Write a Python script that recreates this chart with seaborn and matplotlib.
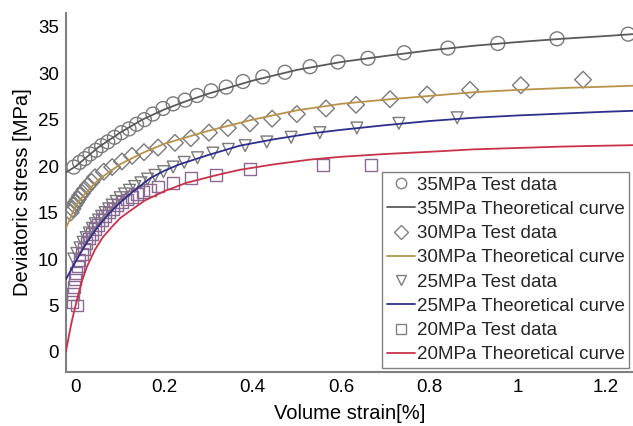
import matplotlib
matplotlib.use("Agg")
import matplotlib.pyplot as plt
from matplotlib.lines import Line2D
import seaborn as sns
import pandas as pd

# ---------------- data ----------------
x35_test = [-0.005, 0.008, 0.02, 0.032, 0.045, 0.058, 0.072, 0.087, 0.103, 0.12, 0.137, 0.155,
            0.174, 0.197, 0.22, 0.247, 0.274, 0.306, 0.34, 0.378, 0.423, 0.473, 0.53, 0.593,
            0.661, 0.743, 0.842, 0.955, 1.089, 1.25]
y35_test = [19.9, 20.4, 20.8, 21.3, 21.7, 22.2, 22.6, 23.1, 23.6, 24.0, 24.5, 25.0,
            25.6, 26.2, 26.7, 27.1, 27.6, 28.1, 28.5, 29.1, 29.6, 30.1, 30.7, 31.2,
            31.6, 32.2, 32.7, 33.2, 33.7, 34.2]
x35_curve = [-0.023, 0.0, 0.05, 0.1, 0.15, 0.2, 0.25, 0.3, 0.4, 0.5, 0.6, 0.7, 0.8, 0.9, 1.0, 1.1, 1.2, 1.261]
y35_curve = [19.3, 20.0, 22.0, 23.6, 25.0, 26.1, 27.0, 27.8, 29.2, 30.35, 31.2, 31.85, 32.45, 32.95, 33.35, 33.7, 34.0, 34.2]

x30_test = [-0.012, -0.008, -0.004, 0.0, 0.004, 0.009, 0.014, 0.02, 0.027, 0.035, 0.043, 0.063,
            0.082, 0.104, 0.127, 0.154, 0.186, 0.224, 0.26, 0.301, 0.344, 0.394, 0.444, 0.5,
            0.566, 0.634, 0.711, 0.795, 0.892, 1.007, 1.148]
y30_test = [15.0, 15.4, 15.8, 16.1, 16.4, 16.8, 17.1, 17.5, 17.9, 18.3, 18.8, 19.4,
            19.9, 20.5, 21.1, 21.5, 22.0, 22.5, 23.0, 23.6, 24.1, 24.6, 25.1, 25.6,
            26.2, 26.6, 27.2, 27.7, 28.2, 28.7, 29.3]
x30_curve = [-0.023, 0.0, 0.02, 0.05, 0.1, 0.15, 0.2, 0.3, 0.4, 0.5, 0.6, 0.7, 0.8, 0.9, 1.0, 1.1, 1.2, 1.261]
y30_curve = [13.3, 15.8, 17.0, 18.5, 20.2, 21.4, 22.4, 23.8, 25.0, 26.0, 26.7, 27.15, 27.55, 27.95, 28.2, 28.4, 28.55, 28.65]

x25_test = [-0.005, 0.002, 0.009, 0.016, 0.023, 0.03, 0.037, 0.044, 0.051, 0.058, 0.066, 0.074,
            0.082, 0.091, 0.1, 0.11, 0.121, 0.133, 0.147, 0.162, 0.179, 0.198, 0.22, 0.245,
            0.275, 0.31, 0.345, 0.383, 0.432, 0.487, 0.552, 0.636, 0.731, 0.863]
y25_test = [10.0, 10.6, 11.2, 11.8, 12.3, 12.8, 13.3, 13.8, 14.2, 14.6, 15.0, 15.4,
            15.8, 16.2, 16.6, 17.0, 17.4, 17.8, 18.2, 18.6, 19.0, 19.4, 19.9, 20.4,
            20.9, 21.4, 21.8, 22.2, 22.6, 23.1, 23.6, 24.1, 24.6, 25.2]
x25_curve = [-0.023, 0.0, 0.025, 0.05, 0.075, 0.1, 0.13, 0.168, 0.2, 0.235, 0.3, 0.371, 0.45,
             0.53, 0.6, 0.7, 0.8, 0.9, 1.0, 1.1, 1.2, 1.261]
y25_curve = [7.8, 9.8, 11.8, 13.5, 14.9, 16.1, 17.3, 18.7, 19.5, 20.2, 21.2, 22.2, 22.9,
             23.5, 23.9, 24.4, 24.85, 25.2, 25.45, 25.65, 25.85, 25.95]

x20_test = [0.002, -0.008, -0.007, -0.005, -0.003, 0.0, 0.004, 0.008, 0.013, 0.018, 0.024, 0.03,
            0.036, 0.043, 0.05, 0.058, 0.066, 0.075, 0.084, 0.094, 0.104, 0.115, 0.126, 0.138,
            0.152, 0.168, 0.186, 0.22, 0.26, 0.317, 0.394, 0.559, 0.668]
y20_test = [5.0, 5.4, 6.2, 7.0, 7.8, 8.5, 9.2, 9.9, 10.5, 11.1, 11.7, 12.2,
            12.7, 13.2, 13.7, 14.2, 14.6, 15.0, 15.4, 15.8, 16.1, 16.4, 16.7, 17.0,
            17.2, 17.4, 17.8, 18.2, 18.7, 19.05, 19.7, 20.1, 20.1]
x20_curve = [-0.023, -0.015, -0.009, 0.002, 0.014, 0.025, 0.043, 0.06, 0.082, 0.1, 0.12, 0.156,
             0.2, 0.25, 0.32, 0.371, 0.45, 0.53, 0.6, 0.7, 0.824, 0.9, 1.0, 1.1, 1.2, 1.261]
y20_curve = [0.0, 2.0, 3.4, 5.6, 7.7, 9.2, 11.0, 12.3, 13.5, 14.4, 15.1, 16.3,
             17.3, 18.2, 19.05, 19.6, 20.2, 20.7, 21.0, 21.3, 21.6, 21.8, 21.95, 22.1, 22.2, 22.25]

labels = ["35MPa", "30MPa", "25MPa", "20MPa"]
x_ticks = [0, 0.2, 0.4, 0.6, 0.8, 1.0, 1.2]
x_tick_labels = ["0", "0.2", "0.4", "0.6", "0.8", "1", "1.2"]
y_ticks = [0, 5, 10, 15, 20, 25, 30, 35]

# ---------------- style ----------------
sns.set_theme(style="white")
plt.rcParams["font.family"] = ["Liberation Sans", "DejaVu Sans"]

marker_color = "#7a7a7a"
square_color = "#8a6a90"
line_colors = ["#5a5a5a", "#b8924a", "#2e2e8c", "#c8324a"]
markers = ["o", "D", "v", "s"]
msizes = [100, 72, 72, 72]
mcolors = [marker_color, marker_color, marker_color, square_color]

tests = [(x35_test, y35_test), (x30_test, y30_test), (x25_test, y25_test), (x20_test, y20_test)]
curves = [(x35_curve, y35_curve), (x30_curve, y30_curve), (x25_curve, y25_curve), (x20_curve, y20_curve)]

fig = plt.figure(figsize=(6.33, 4.26), dpi=100)
ax = fig.add_axes([0.104, 0.127, 0.896, 0.843])

for (tx, ty), m, s, mc in zip(tests, markers, msizes, mcolors):
    sns.scatterplot(x=tx, y=ty, ax=ax, marker=m, s=s, facecolor="none",
                    edgecolor=mc, linewidth=1.0, zorder=2, legend=False)

for (cx, cy), lc in zip(curves, line_colors):
    df = pd.DataFrame({"x": cx, "y": cy})
    sns.lineplot(data=df, x="x", y="y", ax=ax, color=lc, linewidth=1.3,
                 sort=False, zorder=3, legend=False)

ax.set_xlim(-0.023, 1.261)
ax.set_ylim(-2.15, 36.5)
ax.set_xticks(x_ticks)
ax.set_xticklabels(x_tick_labels)
ax.set_yticks(y_ticks)
ax.tick_params(direction="in", length=5, width=1, color="#808080",
               labelsize=13.5, labelcolor="black", pad=5)
for side in ["top", "right"]:
    ax.spines[side].set_visible(False)
for side in ["left", "bottom"]:
    ax.spines[side].set_color("#808080")
    ax.spines[side].set_linewidth(1.5)

ax.set_xlabel("Volume strain[%]", fontsize=14.5, color="black", labelpad=6)
ax.set_ylabel("Deviatoric stress [MPa]", fontsize=14.5, color="black", labelpad=4)

handles = []
names = []
for lab, m, mc, lc in zip(labels, markers, mcolors, line_colors):
    handles.append(Line2D([], [], linestyle="none", marker=m, markersize=7.5,
                          markerfacecolor="none", markeredgecolor="#808080", markeredgewidth=1))
    names.append(f"{lab} Test data")
    handles.append(Line2D([], [], color=lc, linewidth=1.3))
    names.append(f"{lab} Theoretical curve")

leg = ax.legend(handles, names, loc="lower right", fontsize=13.5, frameon=True,
                fancybox=False, edgecolor="#808080", framealpha=1,
                handlelength=1.5, handletextpad=0.08, labelspacing=0.38,
                borderpad=0.25, borderaxespad=0.2, numpoints=1)
leg.get_frame().set_linewidth(1.0)

fig.savefig("out.png", dpi=100)
